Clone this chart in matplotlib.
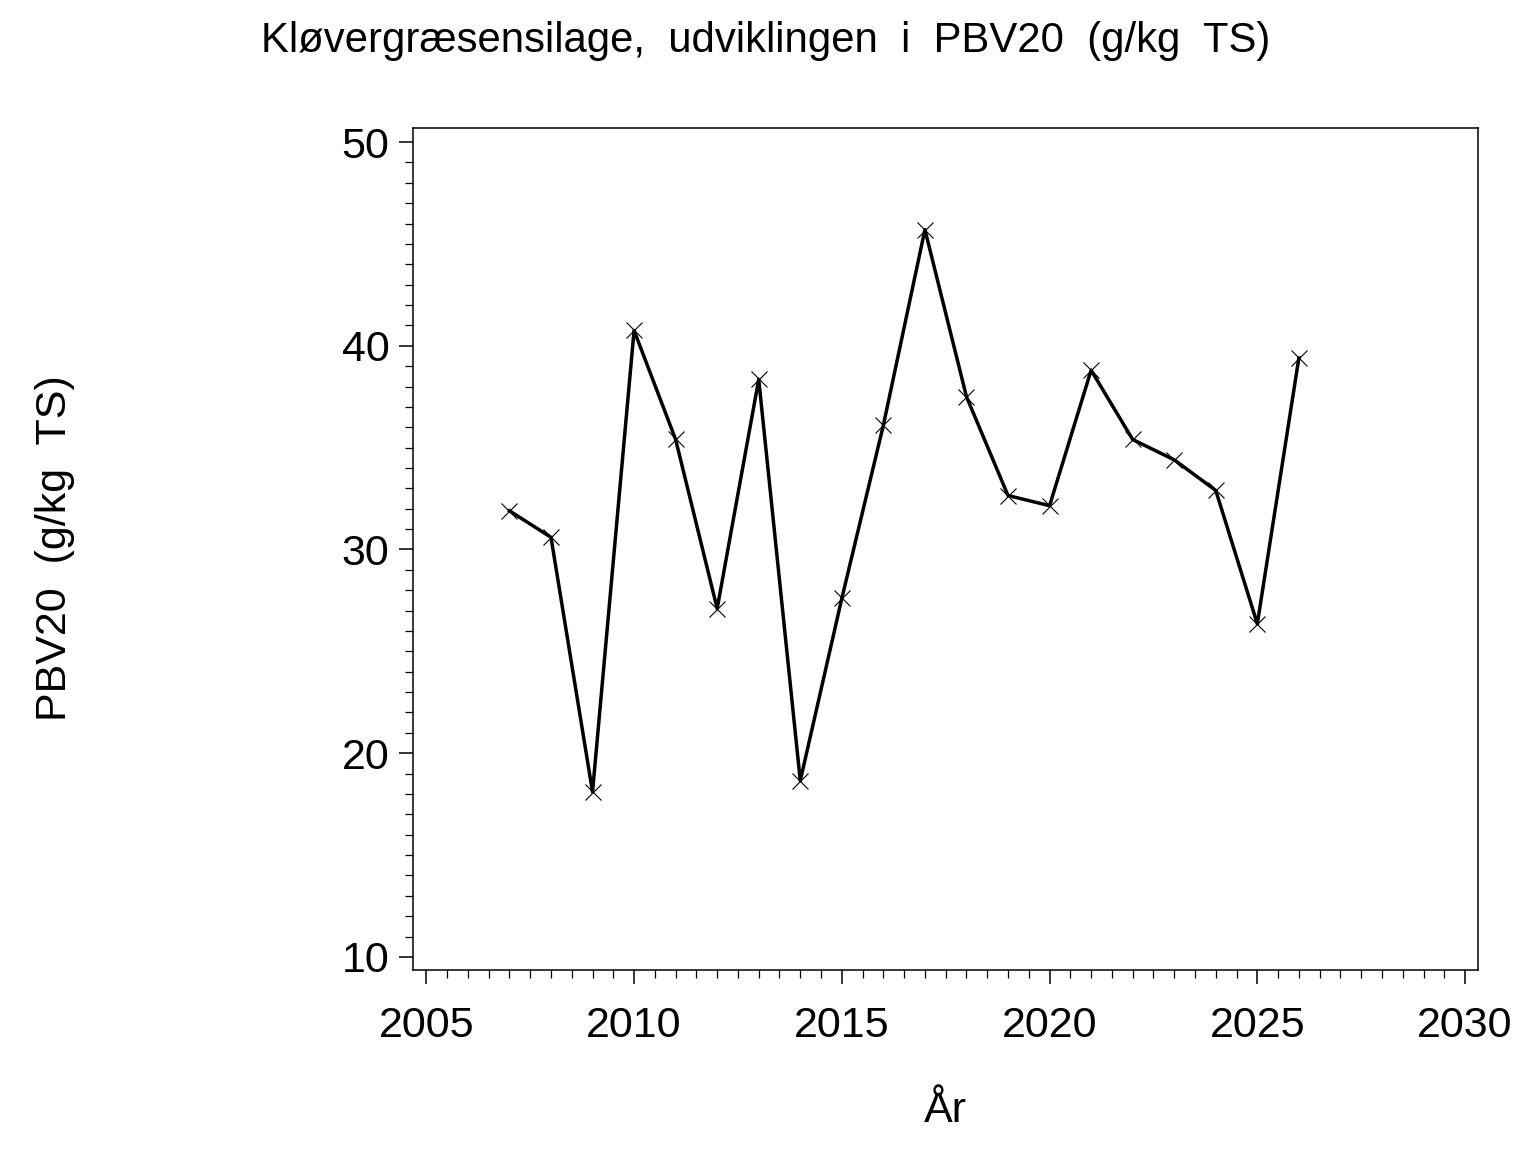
import matplotlib
matplotlib.use('Agg')
import matplotlib.pyplot as plt
from matplotlib.ticker import MultipleLocator

plt.rcParams['font.family'] = ['Liberation Sans', 'DejaVu Sans']

years = [2007, 2008, 2009, 2010, 2011, 2012, 2013, 2014, 2015, 2016,
         2017, 2018, 2019, 2020, 2021, 2022, 2023, 2024, 2025, 2026]
pbv20 = [31.9, 30.6, 18.1, 40.75, 35.4, 27.1, 38.35, 18.65, 27.6, 36.1,
         45.7, 37.5, 32.65, 32.15, 38.8, 35.4, 34.4, 32.9, 26.35, 39.4]

fig = plt.figure(figsize=(15.36, 11.52), dpi=100)
ax = fig.add_axes([0.2689, 0.158, 0.6933, 0.7309])

ax.plot(years, pbv20, color='black', lw=2.5, marker='x', ms=11, mew=0.8)

ax.set_xlim(2004.68, 2030.31)
ax.set_ylim(9.36, 50.69)
ax.xaxis.set_major_locator(MultipleLocator(5))
ax.xaxis.set_minor_locator(MultipleLocator(0.5))
ax.yaxis.set_major_locator(MultipleLocator(10))
ax.yaxis.set_minor_locator(MultipleLocator(1))

for s in ax.spines.values():
    s.set_linewidth(1.1)

ax.tick_params(axis='both', which='major', direction='out', length=10, width=1.1, labelsize=31)
ax.tick_params(axis='both', which='minor', direction='out', length=5.5, width=0.9)
ax.tick_params(axis='x', which='major', pad=16)
ax.tick_params(axis='y', which='major', pad=7)

ax.set_xlabel('År', fontsize=31, labelpad=32)

# y-label sits far left, like the SAS original
fig.text(0.036, 0.524, 'PBV20  (g/kg  TS)', rotation=90,
         ha='center', va='center', fontsize=31)

fig.text(0.4987, 0.964, 'Kløvergræsensilage,  udviklingen  i  PBV20  (g/kg  TS)',
         ha='center', va='center', fontsize=30.2)

fig.savefig('out.png', dpi=100)
